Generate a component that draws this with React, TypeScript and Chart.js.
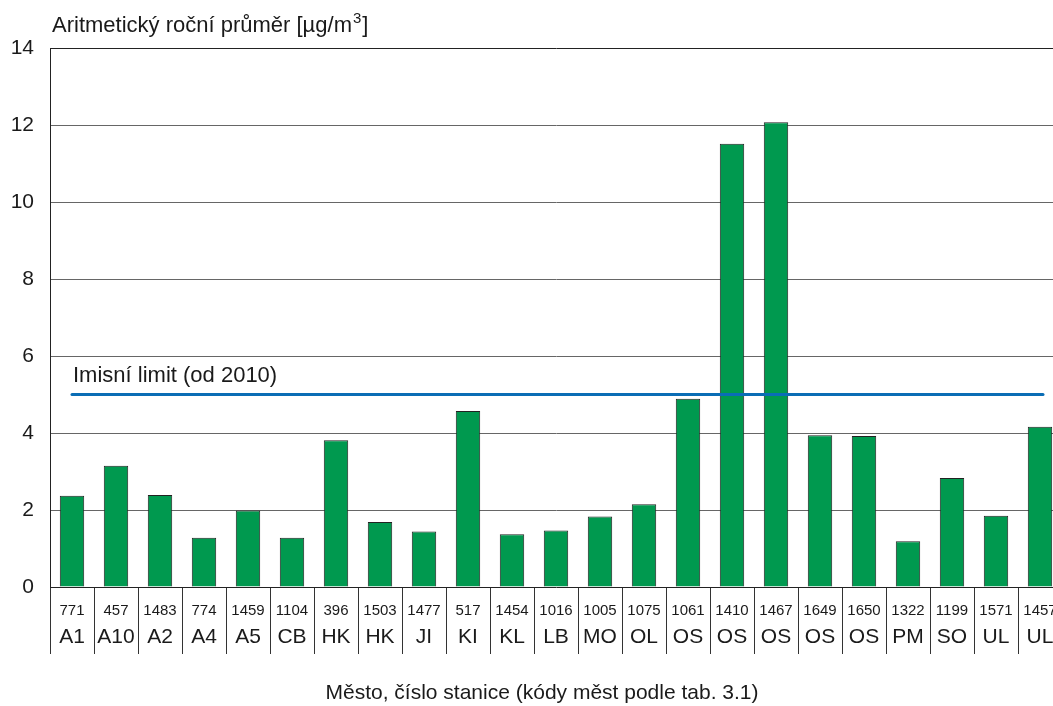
import React, { useEffect, useRef } from "react";
import { Chart, registerables } from "chart.js";

Chart.register(...registerables);

const cityCodes = ["A1","A10","A2","A4","A5","CB","HK","HK","JI","KI","KL","LB","MO","OL","OS","OS","OS","OS","OS","PM","SO","UL","UL"];
const stationNumbers = ["771","457","1483","774","1459","1104","396","1503","1477","517","1454","1016","1005","1075","1061","1410","1467","1649","1650","1322","1199","1571","1457"];
const annualMeans = [2.37,3.15,2.39,1.28,1.99,1.28,3.81,1.69,1.44,4.57,1.37,1.47,1.83,2.15,4.89,11.51,12.07,3.94,3.92,1.19,2.83,1.85,4.16];
const limitValue = 5;
const limitLabel = "Imisní limit (od 2010)";
const yTitleMain = "Aritmetický roční průměr [µg/m";
const yTitleSup = "3";
const yTitleEnd = "]";
const xTitle = "Město, číslo stanice (kódy měst podle tab. 3.1)";

const FONT = '"Liberation Sans", Arial, sans-serif';
const W = 1062;
const H = 706;

export default function App() {
  const ref = useRef<HTMLCanvasElement | null>(null);

  useEffect(() => {
    const canvas = ref.current;
    if (!canvas) return;

    const overlay = {
      id: "overlay",
      afterDatasetsDraw(chart: any) {
        const ctx = chart.ctx;
        const y = chart.scales.y;
        const area = chart.chartArea;
        ctx.save();
        const ly = y.getPixelForValue(limitValue);
        ctx.strokeStyle = "#0a6db5";
        ctx.lineWidth = 3;
        ctx.lineCap = "round";
        ctx.beginPath();
        ctx.moveTo(area.left + 22, ly);
        ctx.lineTo(area.right - 19, ly);
        ctx.stroke();
        ctx.fillStyle = "#1a1a1a";
        ctx.font = `22px ${FONT}`;
        ctx.textAlign = "left";
        ctx.textBaseline = "alphabetic";
        ctx.fillText(limitLabel, area.left + 23, ly - 13);
        ctx.restore();
      },
      afterDraw(chart: any) {
        const ctx = chart.ctx;
        const x = chart.scales.x;
        const area = chart.chartArea;
        ctx.save();
        ctx.fillStyle = "#1a1a1a";
        ctx.textAlign = "center";
        ctx.textBaseline = "alphabetic";
        for (let i = 0; i < cityCodes.length; i++) {
          const cx = x.getPixelForValue(i);
          ctx.font = `15px ${FONT}`;
          ctx.fillText(stationNumbers[i], cx, area.bottom + 28);
          ctx.font = `21px ${FONT}`;
          ctx.fillText(cityCodes[i], cx, area.bottom + 56);
        }
        ctx.font = `21px ${FONT}`;
        ctx.fillText(xTitle, 542, 699);
        ctx.textAlign = "left";
        ctx.font = `22px ${FONT}`;
        let tx = 52;
        ctx.fillText(yTitleMain, tx, 32);
        tx += ctx.measureText(yTitleMain).width;
        ctx.font = `15px ${FONT}`;
        ctx.fillText(yTitleSup, tx + 1, 23);
        tx += ctx.measureText(yTitleSup).width + 2;
        ctx.font = `22px ${FONT}`;
        ctx.fillText(yTitleEnd, tx, 32);
        ctx.restore();
      },
    };

    const chart = new Chart(canvas, {
      type: "bar",
      data: {
        labels: cityCodes,
        datasets: [
          {
            data: annualMeans,
            backgroundColor: "#00994f",
            borderColor: "#222",
            borderWidth: 1,
            categoryPercentage: 1,
            barPercentage: 0.555,
          },
        ],
      },
      options: {
        responsive: false,
        animation: false,
        devicePixelRatio: 1,
        layout: { padding: { top: 48, left: 0, right: 0, bottom: 0 } },
        plugins: { legend: { display: false }, tooltip: { enabled: false } },
        scales: {
          x: {
            offset: true,
            grid: {
              display: true,
              offset: true,
              drawOnChartArea: false,
              drawTicks: true,
              tickLength: 67,
              color: "#333",
              lineWidth: 1,
            },
            border: { display: false },
            ticks: { display: false },
            afterFit: (s: any) => {
              s.height = 119;
            },
          },
          y: {
            min: 0,
            max: 14,
            ticks: {
              stepSize: 2,
              padding: 16,
              color: "#1a1a1a",
              font: { family: FONT, size: 21 },
            },
            grid: {
              drawTicks: false,
              color: (c: any) =>
                c.tick && (c.tick.value === 0 || c.tick.value === 14) ? "#222" : "#666",
              lineWidth: 1,
            },
            border: { display: true, color: "#222", width: 1 },
            afterFit: (s: any) => {
              s.width = 50;
            },
          },
        },
      },
      plugins: [overlay],
    });
    return () => chart.destroy();
  }, []);

  return (
    <div style={{ position: "fixed", left: 0, top: 0, width: "100vw", height: "100vh", overflow: "hidden", background: "#fff" }}>
      <div style={{ width: W, height: H }}>
        <canvas ref={ref} width={W} height={H} style={{ width: W, height: H, display: "block" }} />
      </div>
    </div>
  );
}
